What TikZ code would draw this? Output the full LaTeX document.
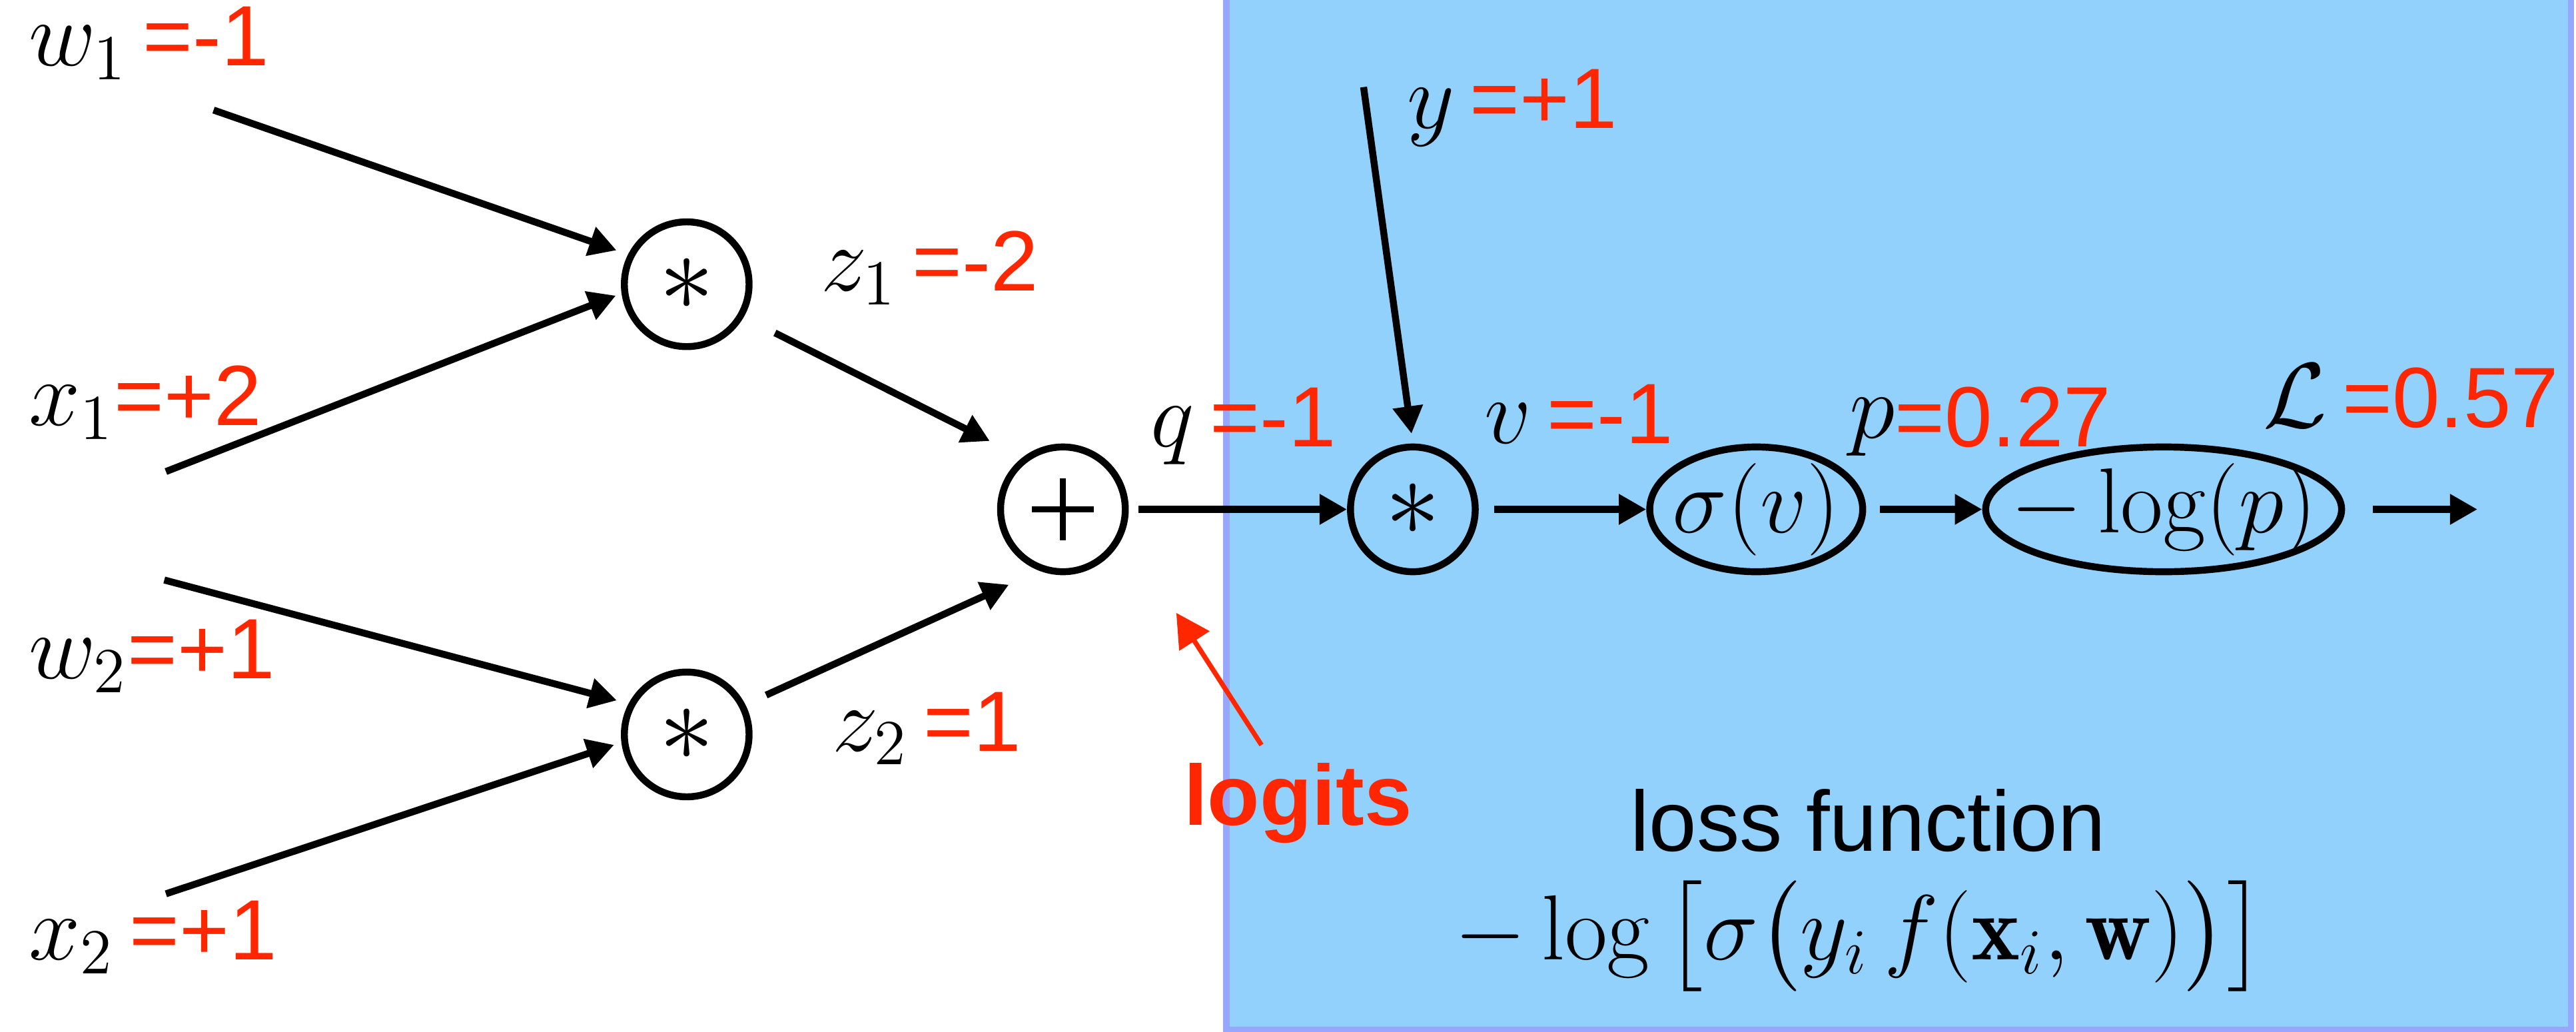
\documentclass[tikz,border=0pt]{standalone}
\usepackage{fontspec}
\setsansfont{Liberation Sans}
\usepackage{amsmath,amssymb}
\usepackage{xcolor}
\definecolor{GraphRed}{HTML}{FF2600}
\definecolor{LossBlue}{HTML}{93D1FD}
\definecolor{LossEdge}{HTML}{97A7FD}
\usepackage{tikz}
\usetikzlibrary{positioning,arrows.meta,shapes.geometric}
\newcommand{\redval}[1]{{\fontsize{16}{19}\selectfont\sffamily\color{GraphRed}#1}}
\tikzset{
  gcirc/.style={draw,circle,line width=1.3pt,minimum size=8.2mm,inner sep=0pt,font=\huge},
  goval/.style={draw,ellipse,line width=1.3pt,minimum height=8.2mm,inner sep=0pt,font=\LARGE},
  gval/.style={anchor=base west,inner sep=0pt,font=\LARGE},
  gflow/.style={-{Triangle[length=1.8mm,width=1.9mm]},line width=1.3pt},
  gnote/.style={-{Triangle[length=2.2mm,width=2.3mm]},draw=GraphRed,line width=0.9pt}
}

\begin{document}
\begin{tikzpicture}[x=0.108mm,y=-0.108mm]
  \useasboundingbox (0,0) rectangle (1568,628);
  \fill[LossBlue] (746.5,-20) rectangle (1565,627);
  \draw[LossEdge,line width=1.2pt] (746.5,-20) -- (746.5,627) -- (1565,627) -- (1565,-20);
  % gates
  \node[gcirc] (mul1) at (418,173) {$\ast$};
  \node[gcirc] (mul2) at (418,447) {$\ast$};
  \node[gcirc] (add) at (647,310) {};
  \draw[line width=1.1pt] ([xshift=-2.05mm]add.center) -- ([xshift=2.05mm]add.center);
  \draw[line width=1.1pt] ([yshift=-2.05mm]add.center) -- ([yshift=2.05mm]add.center);
  \node[gcirc] (mul3) at (860,310) {$\ast$};
  \node[goval,minimum width=14mm,label=center:{\LARGE$\sigma(v)$}] (sig) at (1069,310) {};
  \node[goval,minimum width=23.4mm,label=center:{\LARGE$-\log(p)$}] (nlog) at (1317,310) {};
  % values
  \node[gval] (w1) at (17,40) {$w_1$\,\redval{=-1}};
  \node[gval] (x1) at (17,259) {$x_1$\redval{=+2}};
  \node[gval] (w2) at (17,413) {$w_2$\redval{=+1}};
  \node[gval] (x2) at (17,584) {$x_2$\,\redval{=+1}};
  \node[gval] (z1) at (499,177) {$z_1$\,\redval{=-2}};
  \node[gval] (z2) at (506,457) {$z_2$\,\redval{=1}};
  \node[gval] (q) at (700,272) {$q$\,\redval{=-1}};
  \node[gval] (y) at (856,78) {$y$\,\redval{=+1}};
  \node[gval] (v) at (903,270) {$v$\,\redval{=-1}};
  \node[gval] (p) at (1125,272) {\raisebox{0.6mm}{$p$}\redval{=0.27}};
  \node[gval] (L) at (1377,260) {$\mathcal{L}$\,\redval{=0.57}};
  % notes
  \node[anchor=base west,inner sep=0pt,font=\fontsize{16}{19}\selectfont\sffamily\bfseries,text=GraphRed] (logits) at (720,502) {logits};
  \node[anchor=base,inner sep=0pt,font=\fontsize{16}{19}\selectfont\sffamily] (lossname) at (1137,518) {loss function};
  \node[anchor=base,inner sep=0pt,font=\LARGE] (lossformula) at (1132,584)
    {$-\log\big[\sigma\big(y_i\, f(\mathbf{x}_i,\mathbf{w})\big)\big]$};
  \coordinate (w1in) at (130,67);
  \coordinate (x1in) at (101,287);
  \coordinate (w2in) at (100,353);
  \coordinate (x2in) at (101,544);
  \coordinate (yin) at (830,53);
  \coordinate (out) at (1508,310);
  \coordinate (logtip) at (716,373);
  % wires
  \draw[gflow,shorten >=0.8mm] (w1in) -- (mul1.153);
  \draw[gflow,shorten >=0.4mm] (x1in) -- (mul1.188);
  \draw[gflow,shorten >=0.8mm] (w2in) -- (mul2.152);
  \draw[gflow,shorten >=0.5mm] (x2in) -- (mul2.187);
  \draw[gflow,shorten <=2.3mm,shorten >=2.4mm] (mul1.-30) -- (add.128);
  \draw[gflow,shorten <=1.5mm,shorten >=2.2mm] (mul2.27) -- (add.-111);
  \draw[gflow,shorten <=0.65mm] (add) -- (mul3);
  \draw[gflow,shorten >=0.65mm] (yin) -- (mul3.north);
  \draw[gflow,shorten <=1mm] (mul3) -- (sig);
  \draw[gflow,shorten <=0.9mm] (sig) -- (nlog);
  \draw[gflow,shorten <=1.8mm] (nlog) -- (out);
  \draw[gnote] ([shift={(-2.4mm,1.1mm)}]logits.north) -- (logtip);
\end{tikzpicture}
\end{document}
